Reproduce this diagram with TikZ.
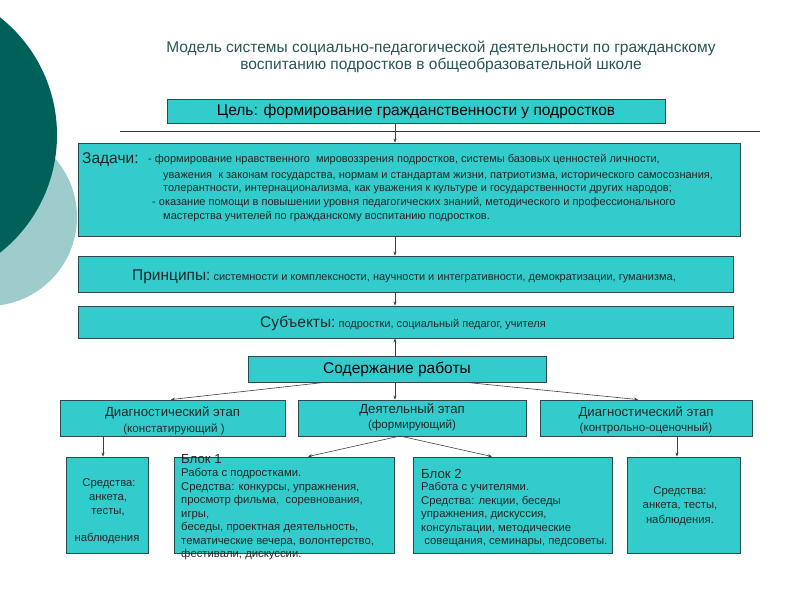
\documentclass[tikz,border=0pt]{standalone}
\usepackage{fontspec}
\setmainfont{Liberation Sans}
\usetikzlibrary{arrows.meta}
\definecolor{boxfill}{RGB}{51,204,204}
\definecolor{boxline}{RGB}{40,75,75}
\definecolor{titlec}{RGB}{40,85,85}
\definecolor{darkc}{RGB}{0,96,90}
\definecolor{lightc}{RGB}{158,204,204}
\newcommand{\fbig}{\fontsize{15.5}{18}\selectfont}
\newcommand{\fmid}{\fontsize{13.2}{15}\selectfont}
\newcommand{\fstage}{\fontsize{11.6}{13}\selectfont}
\newcommand{\fsm}{\fontsize{11}{13}\selectfont}
\newcommand{\fbot}{\fontsize{11.3}{13}\selectfont}
\begin{document}
\begin{tikzpicture}[x=1pt,y=-1pt,
  box/.style={draw=boxline, fill=boxfill, line width=0.9pt, rectangle, inner sep=0pt},
  conn/.style={draw=black!75, line width=0.6pt, -{Stealth[length=4pt,width=3.2pt]}},
  txt/.style={inner sep=0pt, text=black!85},
  lw/.style={txt, anchor=base west}]
\useasboundingbox (0,0) rectangle (800,600);
\clip (0,0) rectangle (800,600);
% decoration
\fill[lightc] (-12,217) circle (89);
\fill[darkc] (-93,135) circle (150);
% title
\node[txt, text=titlec, align=center, font=\fbig] (title) at (441,56.5)
  {Модель системы социально-педагогической деятельности по гражданскому\\[-1pt]воспитанию подростков в общеобразовательной школе};
% separator line
\coordinate (sepL) at (120,131);
\coordinate (sepR) at (760,131);
\draw[black!80, line width=1pt] (sepL) -- (sepR);
% goal
\node[box, minimum width=498pt, minimum height=24pt, font=\fbig] (goal) at (416,111)
  {Цель: формирование гражданственности у подростков};
% tasks
\node[box, minimum width=662pt, minimum height=93pt] (tasks) at (409,189.5) {};
\node[lw, font=\fbig] (tk0) at (82,163.5) {Задачи:};
\node[lw, font=\fsm] (tk1) at (148,162) {- формирование нравственного \ мировоззрения подростков, системы базовых ценностей личности,};
\node[lw, font=\fsm] (tk2) at (163,178) {уважения \ к законам государства, нормам и стандартам жизни, патриотизма, исторического самосознания,};
\node[lw, font=\fsm] (tk3) at (163,191) {толерантности, интернационализма, как уважения к культуре и государственности других народов;};
\node[lw, font=\fsm] (tk4) at (152,205) {- оказание помощи в повышении уровня педагогических знаний, методического и профессионального};
\node[lw, font=\fsm] (tk5) at (163,219) {мастерства учителей по гражданскому воспитанию подростков.};
% principles
\node[box, minimum width=655pt, minimum height=36pt] (princ) at (405.5,274) {};
\node[txt] (princT) at (404,277) {{\fbig Принципы:}{\fsm\ системности и комплексности, научности и интегративности, демократизации, гуманизма,}};
% subjects
\node[box, minimum width=655pt, minimum height=32pt] (subj) at (405.5,322) {};
\node[txt] (subjT) at (403,323) {{\fbig Субъекты:}{\fsm\ подростки, социальный педагог, учителя}};
% content
\node[box, minimum width=298pt, minimum height=26pt, font=\fbig] (content) at (397,369) {Содержание работы};
% stages
\node[box, minimum width=225pt, minimum height=36pt] (stL) at (172.5,418) {};
\node[txt, font=\fmid] (stL1) at (172.5,413) {Диагностический этап};
\node[txt, font=\fstage] (stL2) at (174,429) {(констатирующий )};
\node[box, minimum width=228pt, minimum height=36pt] (stM) at (412,418) {};
\node[txt, font=\fmid] (stM1) at (412,410) {Деятельный этап};
\node[txt, font=\fstage] (stM2) at (412,425.5) {(формирующий)};
\node[box, minimum width=212pt, minimum height=36pt] (stR) at (646,418) {};
\node[txt, font=\fmid] (stR1) at (646,413) {Диагностический этап};
\node[txt, font=\fstage] (stR2) at (646,428.5) {(контрольно-оценочный)};
% bottom boxes
\node[box, minimum width=82pt, minimum height=96pt] (bA) at (107,505) {};
\node[box, minimum width=220pt, minimum height=96pt] (bB) at (284,505) {};
\node[box, minimum width=199pt, minimum height=96pt] (bC) at (512.5,505) {};
\node[box, minimum width=113pt, minimum height=96pt] (bD) at (683.5,505) {};
% box A text
\node[txt, font=\fbot] (a1) at (109,484) {Средства:};
\node[txt, font=\fbot] (a2) at (108,498) {анкета,};
\node[txt, font=\fbot] (a3) at (108,512) {тесты,};
\node[txt, font=\fbot] (a4) at (107,538) {наблюдения};
% box D text
\node[txt, font=\fbot] (d1) at (680,492) {Средства:};
\node[txt, font=\fbot] (d2) at (680,506) {анкета, тесты,};
\node[txt, font=\fbot] (d3) at (680,520) {наблюдения.};
% block 1
\node[lw, font=\fmid] (b10) at (181,463) {Блок 1};
\foreach \t [count=\i] in {{Работа с подростками.},{Средства: конкурсы, упражнения,},{просмотр фильма, \ соревнования,},{игры,},{беседы, проектная деятельность,},{тематические вечера, волонтерство,},{фестивали, дискуссии.}}
  \node[lw, font=\fbot] (b1\i) at (181,463+13.5*\i) {\t};
% block 2
\node[lw, font=\fmid] (b20) at (421,478) {Блок 2};
\foreach \t [count=\i] in {{Работа с учителями.},{Средства: лекции, беседы},{упражнения, дискуссия,},{консультации, методические},{\ совещания, семинары, педсоветы.}}
  \node[lw, font=\fbot] (b2\i) at (421,477+13.5*\i) {\t};
% connectors
\draw[conn] (395,0 |- goal.south) -- (395,0 |- tasks.north);
\draw[conn] (395,0 |- tasks.south) -- (395,0 |- princ.north);
\draw[conn] (395,0 |- princ.south) -- (395,0 |- subj.north);
\draw[conn] (395,0 |- content.north) -- (395,0 |- subj.south);
\draw[conn] ([xshift=-73pt]content.south) -- ([xshift=-1.5pt]stL.north);
\draw[conn] (395,0 |- content.south) -- (395,0 |- stM.north);
\draw[conn] ([xshift=70pt]content.south) -- ([xshift=-8pt]stR.north);
\draw[conn] (103,0 |- stL.south) -- (103,0 |- bA.north);
\coordinate (mfork) at (400,436);
\draw[conn] (mfork) -- ([xshift=24pt]bB.north);
\draw[conn] (mfork) -- ([xshift=-20.5pt]bC.north);
\draw[conn] (677,0 |- stR.south) -- (677,0 |- bD.north);
\end{tikzpicture}
\end{document}
